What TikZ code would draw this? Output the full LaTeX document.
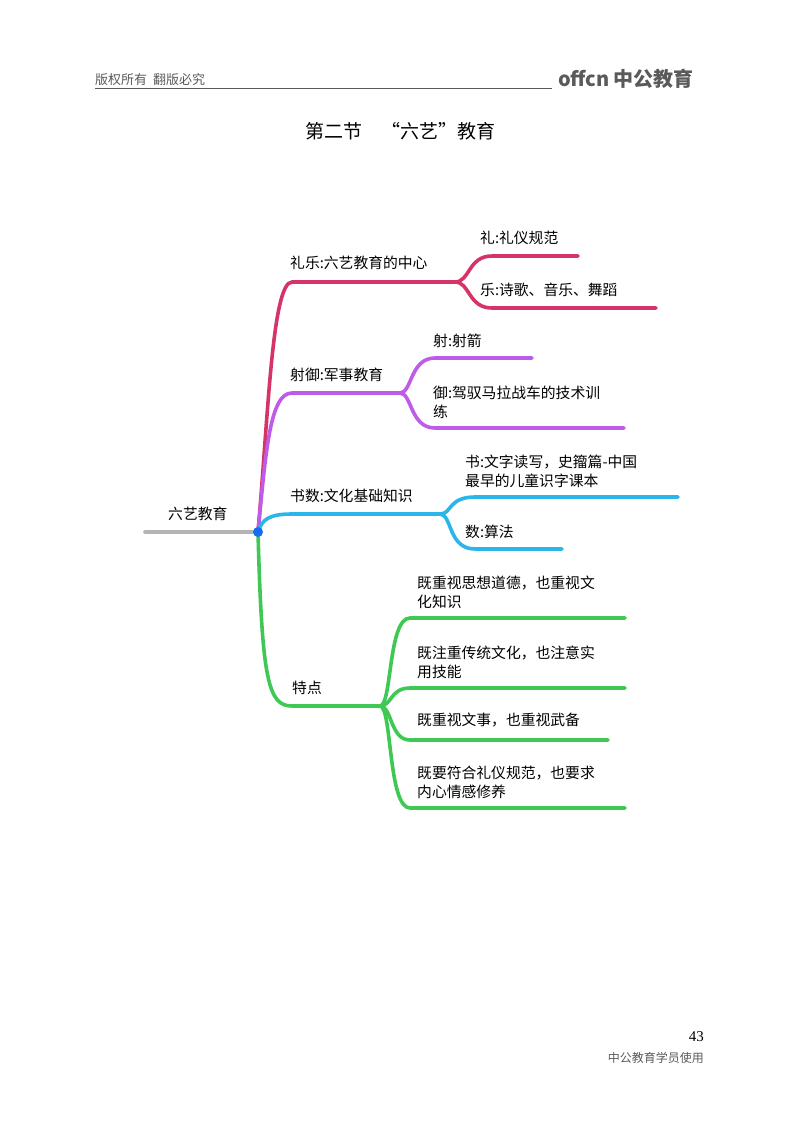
\documentclass[tikz,border=0pt]{standalone}
\usepackage{fontspec}
\setmainfont{Liberation Serif}
\newfontfamily\cjk{Noto Sans CJK SC}
\definecolor{cred}{RGB}{214,52,102}
\definecolor{cpur}{RGB}{190,92,232}
\definecolor{cblue}{RGB}{42,182,232}
\definecolor{cgreen}{RGB}{64,200,84}
\definecolor{cgray}{RGB}{180,180,180}
\definecolor{cdot}{RGB}{20,110,240}
\definecolor{hgray}{RGB}{90,90,90}
\tikzset{lab/.style={anchor=west,inner sep=0pt,font=\cjk\fontsize{14.8}{19}\selectfont,align=left},
br/.style={line width=3.6pt,line cap=round}}
\begin{document}
\begin{tikzpicture}[x=1pt,y=-1pt]
\useasboundingbox (0,0) rectangle (800,1124);
% header
\node[anchor=west,inner sep=0pt,text=hgray,font=\cjk\fontsize{13}{15}\selectfont] (hd) at (95,80) {版权所有\ \ 翻版必究};
\draw[hgray,line width=0.8pt] (95,88) -- (552,88);
\node[anchor=west,inner sep=0pt,text=hgray,font=\cjk\bfseries\fontsize{20}{22}\selectfont] (logo) at (558,79) {offcn\,中公教育};
\node[inner sep=0pt,font=\cjk\fontsize{19}{21}\selectfont] (title) at (400,131) {第二节\quad“六艺”教育};
\node[anchor=east,inner sep=0pt,font=\fontsize{15}{17}\selectfont] (pg) at (704,1037) {43};
\node[anchor=east,inner sep=0pt,text=hgray,font=\cjk\fontsize{12}{14}\selectfont] (ft) at (704,1058) {中公教育学员使用};
% root
\coordinate (r) at (258,532);
\coordinate (r0) at (145,532);
\draw[br,cgray] (r0) -- (r);
\node[lab] (rt) at (168,514) {六艺教育};
% red
\coordinate (a1) at (455,282);
\draw[br,cred] (r) .. controls (268,420) and (272,282) .. (292,282) -- (a1);
\draw[br,cred] (a1) .. controls (470,282) and (468,256) .. (492,256) -- (578,256);
\draw[br,cred] (a1) .. controls (470,282) and (468,308) .. (492,308) -- (656,308);
\node[lab] (ta) at (290,263) {礼乐:六艺教育的中心};
\node[lab] (ta1) at (480,238) {礼:礼仪规范};
\node[lab] (ta2) at (480,290) {乐:诗歌、音乐、舞蹈};
% purple
\coordinate (b1) at (400,393);
\draw[br,cpur] (r) .. controls (266,450) and (270,393) .. (292,393) -- (b1);
\draw[br,cpur] (b1) .. controls (412,393) and (410,358) .. (435,358) -- (532,358);
\draw[br,cpur] (b1) .. controls (412,393) and (410,428) .. (435,428) -- (624,428);
\node[lab] (tb) at (290,375) {射御:军事教育};
\node[lab] (tb1) at (433,341) {射:射箭};
\node[lab] (tb2) at (433,402) {御:驾驭马拉战车的技术训\\练};
% blue
\coordinate (c1) at (440,514);
\draw[br,cblue] (r) .. controls (262,520) and (268,514) .. (292,514) -- (c1);
\draw[br,cblue] (c1) .. controls (452,514) and (448,497) .. (475,497) -- (678,497);
\draw[br,cblue] (c1) .. controls (452,514) and (448,549) .. (475,549) -- (562,549);
\node[lab] (tc) at (290,496) {书数:文化基础知识};
\node[lab] (tc1) at (465,471) {书:文字读写，史籀篇-中国\\最早的儿童识字课本};
\node[lab] (tc2) at (465,532) {数:算法};
% green
\coordinate (d1) at (380,706);
\draw[br,cgreen] (r) .. controls (262,680) and (268,706) .. (292,706) -- (d1);
\draw[br,cgreen] (d1) .. controls (392,706) and (388,618) .. (410,618) -- (625,618);
\draw[br,cgreen] (d1) .. controls (392,706) and (390,688) .. (410,688) -- (625,688);
\draw[br,cgreen] (d1) .. controls (392,706) and (390,740) .. (410,740) -- (608,740);
\draw[br,cgreen] (d1) .. controls (392,706) and (388,808) .. (410,808) -- (625,808);
\node[lab] (td) at (292,688) {特点};
\node[lab] (td1) at (417,592) {既重视思想道德，也重视文\\化知识};
\node[lab] (td2) at (417,662) {既注重传统文化，也注意实\\用技能};
\node[lab] (td3) at (417,720) {既重视文事，也重视武备};
\node[lab] (td4) at (417,782) {既要符合礼仪规范，也要求\\内心情感修养};
\fill[cdot] (r) circle (5);
\end{tikzpicture}
\end{document}
